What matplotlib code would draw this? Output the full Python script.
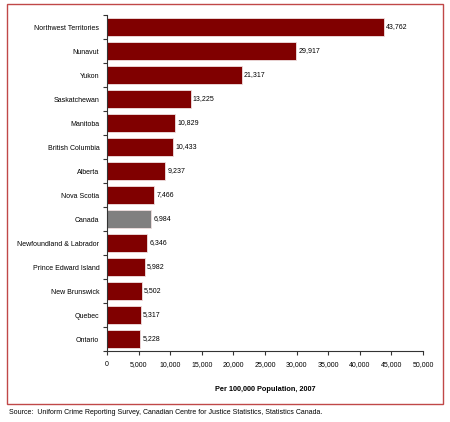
import matplotlib
matplotlib.use("Agg")
import matplotlib.pyplot as plt
from matplotlib.patches import Rectangle

categories = ["Northwest Territories", "Nunavut", "Yukon", "Saskatchewan", "Manitoba",
              "British Columbia", "Alberta", "Nova Scotia", "Canada",
              "Newfoundland & Labrador", "Prince Edward Island", "New Brunswick",
              "Quebec", "Ontario"]
values = [43762, 29917, 21317, 13225, 10829, 10433, 9237, 7466, 6984, 6346, 5982, 5502, 5317, 5228]
xticks = list(range(0, 50001, 5000))

plt.rcParams['font.family'] = ['Liberation Sans', 'DejaVu Sans']

fig = plt.figure(figsize=(4.5, 4.22), dpi=100)
ax = fig.add_axes([107/450, 1-351/422, (423-107)/450, (351-15)/422])

n = len(categories)
ypos = list(range(n))
colors = ["#808080" if c == "Canada" else "#800000" for c in categories]
ax.barh(ypos, values, height=0.78, color=colors, edgecolor="#f0e0e0", linewidth=0.6)
ax.set_ylim(n - 0.5, -0.5)
ax.set_xlim(0, 50000)

ax.set_yticks(ypos)
ax.set_yticklabels(categories, fontsize=5.0)
ax.set_yticks([i - 0.5 for i in range(n + 1)], minor=True)
ax.tick_params(axis='y', which='major', length=0, pad=5.5)
ax.tick_params(axis='y', which='minor', length=3, width=0.8, color="#333333")
ax.set_xticks(xticks)
ax.set_xticklabels([f"{v:,}" for v in xticks], fontsize=5.0)
ax.tick_params(axis='x', length=3, width=0.8, color="#333333", pad=4)

for sp in ["top", "right"]:
    ax.spines[sp].set_visible(False)
for sp in ["left", "bottom"]:
    ax.spines[sp].set_color("#333333")
    ax.spines[sp].set_linewidth(0.8)

for y, v in zip(ypos, values):
    ax.text(v + 350, y, f"{v:,}", va="center", ha="left", fontsize=5.0)

ax.set_xlabel("Per 100,000 Population, 2007", fontsize=5.3, fontweight="bold", labelpad=13)

fig.patches.append(Rectangle((7/450, 1-404/422), (443-7)/450, (404-4)/422,
                             transform=fig.transFigure, fill=False,
                             edgecolor="#c04848", linewidth=1.0))
fig.text(9/450, 1-413/422, "Source:  Uniform Crime Reporting Survey, Canadian Centre for Justice Statistics, Statistics Canada.",
         fontsize=5.0, va="center", ha="left")

fig.savefig("out.png", dpi=100)
